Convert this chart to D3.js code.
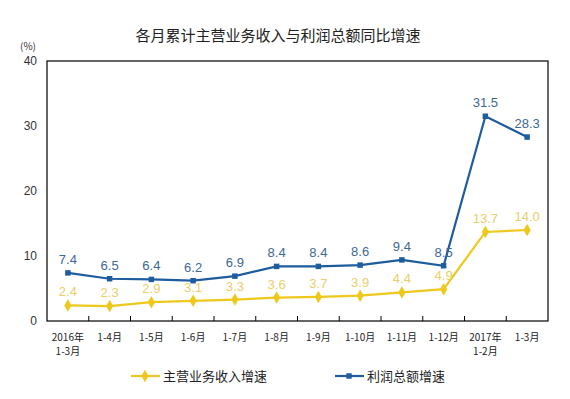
<!DOCTYPE html>
<html>
<head>
<meta charset="utf-8">
<script src="https://cdn.jsdelivr.net/npm/d3@7/dist/d3.min.js"></script>
<style>
  body { margin: 0; background: #fff; }
  text { font-family: "Noto Sans CJK SC", sans-serif; }
  .num { font-family: "Liberation Sans", Arial, sans-serif; }
</style>
</head>
<body>
<div id="chart"></div>
<script>
var categories = ['2016年\n1-3月', '1-4月', '1-5月', '1-6月', '1-7月', '1-8月',
    '1-9月', '1-10月', '1-11月', '1-12月', '2017年\n1-2月', '1-3月']
var revenue = [2.4, 2.3, 2.9, 3.1, 3.3, 3.6, 3.7, 3.9, 4.4, 4.9, 13.7, 14.0]
var profit = [7.4, 6.5, 6.4, 6.2, 6.9, 8.4, 8.4, 8.6, 9.4, 8.5, 31.5, 28.3]
var yTicks = [0, 10, 20, 30, 40]
var seriesNames = ['主营业务收入增速', '利润总额增速']

var width = 570
var height = 399
var margin = { left: 47, right: 22, top: 61, bottom: 78 }

var yellow = '#EEC81C'
var yellowText = '#E9CE6A'
var blue = '#1D5C9D'
var blueText = '#3C6894'

var svg = d3.select('#chart').append('svg')
    .attr('width', width)
    .attr('height', height)

var x = d3.scaleBand()
    .domain(categories)
    .range([margin.left, width - margin.right])

var y = d3.scaleLinear()
    .domain([0, 40])
    .range([height - margin.bottom, margin.top])

// title
svg.append('text')
    .attr('x', 278)
    .attr('y', 41)
    .attr('text-anchor', 'middle')
    .style('font-size', '15px')
    .style('fill', '#222')
    .text('各月累计主营业务收入与利润总额同比增速')

svg.append('text')
    .attr('x', 28)
    .attr('y', 50)
    .attr('text-anchor', 'middle')
    .style('font-size', '10px')
    .style('fill', '#333')
    .text('(%)')

// frame
svg.append('rect')
    .attr('x', margin.left)
    .attr('y', margin.top)
    .attr('width', width - margin.left - margin.right)
    .attr('height', height - margin.top - margin.bottom)
    .attr('fill', 'none')
    .attr('stroke', '#000')
    .attr('stroke-width', 1.2)

// y axis
var yAxis = svg.append('g')
    .attr('transform', 'translate(' + margin.left + ',0)')
    .call(d3.axisLeft(y).tickValues(yTicks).tickSize(0).tickPadding(10))
yAxis.select('.domain').remove()
yAxis.selectAll('text')
    .attr('class', 'num')
    .style('font-size', '12px')
    .style('fill', '#333')

// x axis
var xAxis = svg.append('g')
    .attr('transform', 'translate(0,' + (height - margin.bottom) + ')')
    .call(d3.axisBottom(x).tickSize(0).tickFormat(''))
xAxis.select('.domain').remove()

svg.selectAll('.xtick')
    .data(categories.slice(1))
    .enter().append('line')
    .attr('class', 'xtick')
    .attr('x1', function(d) { return x(d) })
    .attr('x2', function(d) { return x(d) })
    .attr('y1', height - margin.bottom)
    .attr('y2', height - margin.bottom - 5)
    .attr('stroke', '#000')

svg.selectAll('.xlabel')
    .data(categories)
    .enter().append('text')
    .attr('class', 'xlabel')
    .attr('text-anchor', 'middle')
    .style('font-size', '10px')
    .style('fill', '#222')
    .each(function(d) {
        var t = d3.select(this)
        d.split('\n').forEach(function(line, i) {
            t.append('tspan')
                .attr('x', x(d) + x.bandwidth() / 2)
                .attr('y', height - margin.bottom + 20 + i * 14)
                .text(line)
        })
    })

var cx = function(d, i) { return x(categories[i]) + x.bandwidth() / 2 }

function drawSeries(values, color, textColor, marker) {
    var line = d3.line()
        .x(cx)
        .y(function(d) { return y(d) })
    svg.append('path')
        .datum(values)
        .attr('d', line)
        .attr('fill', 'none')
        .attr('stroke', color)
        .attr('stroke-width', 2.2)

    var g = svg.append('g')
    g.selectAll('path')
        .data(values)
        .enter().append('path')
        .attr('d', d3.symbol().type(marker).size(marker === d3.symbolSquare ? 30 : 45))
        .attr('transform', function(d, i) {
            return 'translate(' + cx(d, i) + ',' + y(d) + ')' })
        .attr('fill', color)

    g.selectAll('text')
        .data(values)
        .enter().append('text')
        .attr('class', 'num')
        .attr('x', cx)
        .attr('y', function(d) { return y(d) - 9 })
        .attr('text-anchor', 'middle')
        .style('font-size', '13px')
        .style('fill', textColor)
        .text(function(d) { return d.toFixed(1) })
}

drawSeries(profit, blue, blueText, d3.symbolSquare)
drawSeries(revenue, yellow, yellowText, d3.symbolDiamond)

// legend
var legend = [
    { name: seriesNames[0], color: yellow, marker: d3.symbolDiamond, x: 131 },
    { name: seriesNames[1], color: blue, marker: d3.symbolSquare, x: 335 }
]
var lg = svg.selectAll('.legend')
    .data(legend)
    .enter().append('g')
    .attr('class', 'legend')
    .attr('transform', function(d) { return 'translate(' + d.x + ',376)' })
lg.append('line')
    .attr('x1', 0).attr('x2', 29)
    .attr('stroke', function(d) { return d.color })
    .attr('stroke-width', 2.2)
lg.append('path')
    .attr('d', function(d) {
        return d3.symbol().type(d.marker).size(d.marker === d3.symbolSquare ? 30 : 45)() })
    .attr('transform', 'translate(14,0)')
    .attr('fill', function(d) { return d.color })
lg.append('text')
    .attr('x', 32)
    .attr('y', 5)
    .style('font-size', '13px')
    .style('fill', '#222')
    .text(function(d) { return d.name })
</script>
</body>
</html>
